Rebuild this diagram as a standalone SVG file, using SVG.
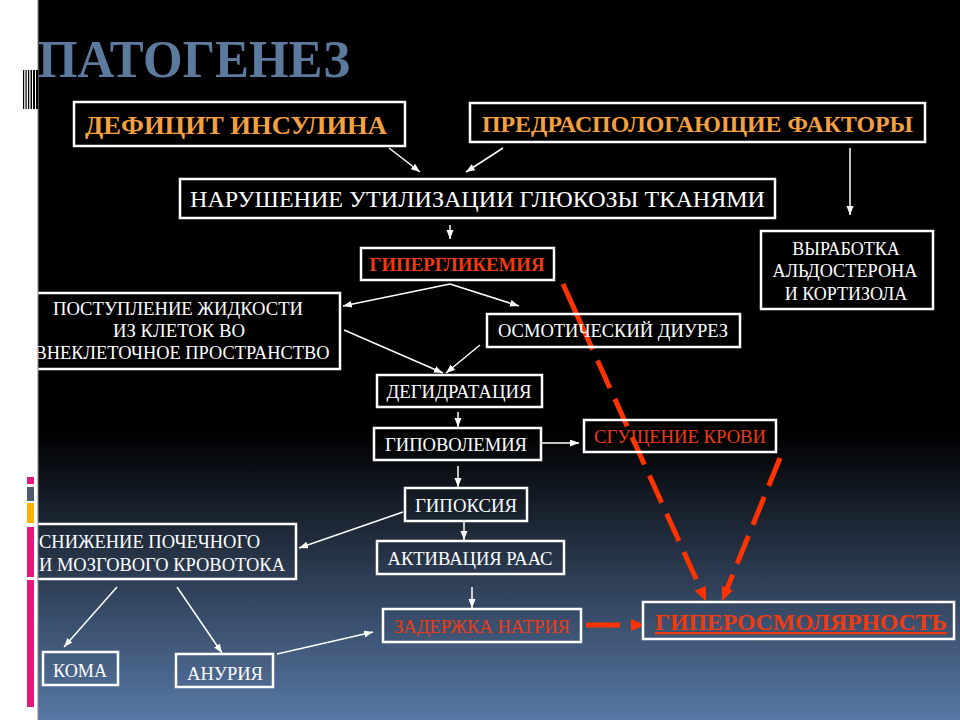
<svg xmlns="http://www.w3.org/2000/svg" width="960" height="720" viewBox="0 0 960 720">
<defs>
<linearGradient id="bg" x1="0" y1="0" x2="0" y2="1">
<stop offset="0" stop-color="#000"/>
<stop offset="0.6" stop-color="#000"/>
<stop offset="1" stop-color="#5878a5"/>
</linearGradient>
<marker id="wa" markerUnits="userSpaceOnUse" markerWidth="10" markerHeight="8" refX="9" refY="3.5" orient="auto">
<path d="M0,0 L9,3.5 L0,7 z" fill="#fff"/>
</marker>
<marker id="ra" markerUnits="userSpaceOnUse" markerWidth="16" markerHeight="14" refX="4" refY="6" orient="auto">
<path d="M0,0 L14,6 L0,12 z" fill="#ff3300"/>
</marker>
<style>
.box{fill:none;stroke:#fff;stroke-width:2.5}
.t{font-family:"Liberation Serif","Times New Roman",serif;fill:#fff;font-size:18px}
.c{text-anchor:middle}
.or{fill:#f5a040;font-weight:bold}
.red{fill:#f03a10}
.w{stroke:#fff;stroke-width:1.5;fill:none;marker-end:url(#wa)}
.r{stroke:#ff3300;stroke-width:5;fill:none;stroke-dasharray:30 12;marker-end:url(#ra)}
</style>
</defs>
<rect x="0" y="0" width="960" height="720" fill="#fff"/>
<rect x="38" y="0" width="922" height="720" fill="url(#bg)"/>
<text x="38" y="77" font-family="Liberation Serif, serif" font-weight="bold" font-size="52" fill="#5b7a9e" textLength="312" lengthAdjust="spacingAndGlyphs">ПАТОГЕНЕЗ</text>

<g id="connectors">
<line class="w" x1="389" y1="148" x2="420" y2="172"/>
<line class="w" x1="503" y1="148" x2="466" y2="172"/>
<line class="w" x1="850" y1="148" x2="850" y2="215"/>
<line class="w" x1="450" y1="225" x2="450" y2="239"/>
<line class="w" x1="450" y1="284" x2="343" y2="306"/>
<line class="w" x1="450" y1="284" x2="519" y2="306"/>
<line class="w" x1="344" y1="330" x2="443" y2="373"/>
<line class="w" x1="480" y1="345" x2="446" y2="373"/>
<line class="w" x1="458" y1="412" x2="458" y2="427"/>
<line class="w" x1="542" y1="443" x2="579" y2="443"/>
<line class="w" x1="458" y1="466" x2="458" y2="487"/>
<line class="w" x1="464" y1="522" x2="464" y2="540"/>
<line class="w" x1="472" y1="587" x2="472" y2="608"/>
<line class="w" x1="403" y1="512" x2="299" y2="548"/>
<line class="w" x1="117" y1="587" x2="64" y2="647"/>
<line class="w" x1="177" y1="587" x2="222" y2="653"/>
<line class="w" x1="277" y1="654" x2="373" y2="632"/>
<line class="r" x1="586" y1="625" x2="635" y2="625" style="stroke-dasharray:34 100"/>
<line class="r" x1="563" y1="284" x2="701.9" y2="591.9" style="stroke-dasharray:72 12 30 12 30 12 30 12 30 12 30 12 30 12 30 12"/>
<line class="r" x1="780" y1="458" x2="725.8" y2="591.7"/>
</g>

<g id="n-deficit">
<rect class="box" x="74" y="102" width="331" height="44"/>
<text class="t or" x="85" y="134" style="font-size:26px" textLength="302" lengthAdjust="spacingAndGlyphs">ДЕФИЦИТ ИНСУЛИНА</text>
</g>
<g id="n-factors">
<rect class="box" x="470" y="103" width="455" height="39"/>
<text class="t or" x="482" y="132" style="font-size:24px" textLength="431" lengthAdjust="spacingAndGlyphs">ПРЕДРАСПОЛОГАЮЩИЕ ФАКТОРЫ</text>
</g>
<g id="n-utilization">
<rect class="box" x="180" y="179" width="595" height="39"/>
<text class="t" x="190" y="207" style="font-size:24px" textLength="575" lengthAdjust="spacingAndGlyphs">НАРУШЕНИЕ УТИЛИЗАЦИИ ГЛЮКОЗЫ ТКАНЯМИ</text>
</g>
<g id="n-aldosterone">
<rect class="box" x="761" y="231" width="172" height="78"/>
<text class="t c" x="846" y="255">ВЫРАБОТКА</text>
<text class="t c" x="845" y="277" textLength="145" lengthAdjust="spacingAndGlyphs">АЛЬДОСТЕРОНА</text>
<text class="t c" x="846" y="300">И КОРТИЗОЛА</text>
</g>
<g id="n-hyperglycemia">
<rect class="box" x="361" y="248" width="193" height="32"/>
<text class="t red c" x="457" y="271" style="font-size:18px;font-weight:bold" textLength="175" lengthAdjust="spacingAndGlyphs">ГИПЕРГЛИКЕМИЯ</text>
</g>
<g id="n-fluid">
<rect class="box" x="30" y="293" width="310" height="76"/>
<text class="t c" x="178" y="315" textLength="250" lengthAdjust="spacingAndGlyphs">ПОСТУПЛЕНИЕ ЖИДКОСТИ</text>
<text class="t c" x="179" y="337" textLength="132" lengthAdjust="spacingAndGlyphs">ИЗ КЛЕТОК ВО</text>
<text class="t c" x="182" y="359" textLength="295" lengthAdjust="spacingAndGlyphs">ВНЕКЛЕТОЧНОЕ ПРОСТРАНСТВО</text>
</g>
<g id="n-diuresis">
<rect class="box" x="487" y="314" width="253" height="33"/>
<text class="t c" x="613" y="337" textLength="230" lengthAdjust="spacingAndGlyphs">ОСМОТИЧЕСКИЙ ДИУРЕЗ</text>
</g>
<g id="n-dehydration">
<rect class="box" x="377" y="375" width="165" height="32"/>
<text class="t c" x="459" y="398" textLength="145" lengthAdjust="spacingAndGlyphs">ДЕГИДРАТАЦИЯ</text>
</g>
<g id="n-hypovolemia">
<rect class="box" x="374" y="428" width="167" height="32"/>
<text class="t c" x="456" y="451" textLength="142" lengthAdjust="spacingAndGlyphs">ГИПОВОЛЕМИЯ</text>
</g>
<g id="n-thickening">
<rect class="box" x="584" y="420" width="192" height="32"/>
<text class="t red c" x="680" y="443" textLength="172" lengthAdjust="spacingAndGlyphs">СГУЩЕНИЕ КРОВИ</text>
</g>
<g id="n-hypoxia">
<rect class="box" x="405" y="488" width="122" height="33"/>
<text class="t c" x="466" y="512" textLength="102" lengthAdjust="spacingAndGlyphs">ГИПОКСИЯ</text>
</g>
<g id="n-raas">
<rect class="box" x="377" y="541" width="187" height="33"/>
<text class="t c" x="470" y="565" textLength="165" lengthAdjust="spacingAndGlyphs">АКТИВАЦИЯ РААС</text>
</g>
<g id="n-sodium">
<rect class="box" x="383" y="609" width="198" height="33"/>
<text class="t red c" x="482" y="633" textLength="176" lengthAdjust="spacingAndGlyphs">ЗАДЕРЖКА НАТРИЯ</text>
</g>
<g id="n-hyperosm">
<rect class="box" x="643" y="602" width="311" height="37"/>
<text class="t red" x="655" y="630" style="font-size:23px;font-weight:bold;text-decoration:underline" textLength="292" lengthAdjust="spacingAndGlyphs">ГИПЕРОСМОЛЯРНОСТЬ</text>
</g>
<g id="n-bloodflow">
<rect class="box" x="27" y="524" width="269" height="55"/>
<text class="t" x="39" y="548" textLength="221" lengthAdjust="spacingAndGlyphs">СНИЖЕНИЕ ПОЧЕЧНОГО</text>
<text class="t" x="39" y="571" textLength="246" lengthAdjust="spacingAndGlyphs">И МОЗГОВОГО КРОВОТОКА</text>
</g>
<g id="n-coma">
<rect class="box" x="43" y="652" width="75" height="33"/>
<text class="t c" x="80" y="677" textLength="54" lengthAdjust="spacingAndGlyphs">КОМА</text>
</g>
<g id="n-anuria">
<rect class="box" x="176" y="654" width="97" height="33"/>
<text class="t c" x="225" y="680" textLength="76" lengthAdjust="spacingAndGlyphs">АНУРИЯ</text>
</g>

<g id="left-strip">
<rect x="0" y="0" width="38" height="720" fill="#fff"/>
<rect x="37.5" y="0" width="1" height="720" fill="#888"/>
<g fill="#000">
<rect x="23" y="70" width="1.2" height="39"/>
<rect x="25.5" y="70" width="1.2" height="39"/>
<rect x="28" y="70" width="1.2" height="39"/>
<rect x="30.5" y="70" width="1.5" height="39"/>
<rect x="33" y="70" width="2" height="39"/>
<rect x="36" y="70" width="2" height="39"/>
</g>
<rect x="27" y="477" width="7" height="7" fill="#e0197a"/>
<rect x="27" y="487" width="7" height="14" fill="#4b5a6d"/>
<rect x="27" y="503" width="7" height="20" fill="#f5b400"/>
<rect x="27" y="527" width="7" height="50" fill="#e0197a"/>
<rect x="27" y="580" width="7" height="127" fill="#e0197a"/>
</g>
</svg>
